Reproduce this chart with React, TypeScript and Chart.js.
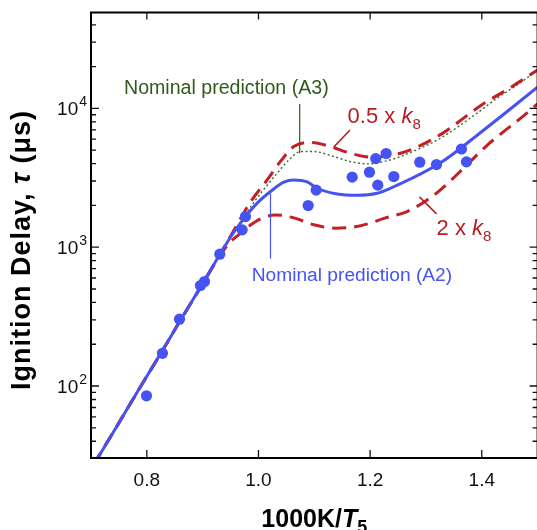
import React, { useEffect, useRef } from "react";
import { Chart, registerables } from "chart.js";

Chart.register(...registerables);

// ---------- data ----------
const a2X = [0.704, 0.7134, 0.7894, 0.828, 0.8585, 0.8997, 0.9302, 0.9534, 0.9767, 0.9977, 1.0215, 1.0453, 1.0632, 1.0872, 1.1052, 1.141, 1.1768, 1.2126, 1.2364, 1.326, 1.3923, 1.4998];
const a2Y = [27, 31, 100, 180, 290, 545, 880, 1240, 1663, 2080, 2520, 2940, 3050, 2955, 2660, 2420, 2370, 2450, 2660, 4055, 6440, 14200];

const halfK8X = [0.704, 0.7134, 0.7894, 0.828, 0.8585, 0.8997, 0.9302, 0.9499, 0.9857, 1.0156, 1.0394, 1.0632, 1.0949, 1.129, 1.1648, 1.2006, 1.2543, 1.3201, 1.4043, 1.4459, 1.4998];
const halfK8Y = [27, 31, 100, 180, 290, 545, 880, 1200, 2120, 3055, 4150, 5310, 5690, 5310, 4750, 4460, 4750, 6270, 10900, 13700, 18900];

const twoK8X = [0.704, 0.7134, 0.7894, 0.828, 0.8585, 0.8997, 0.9302, 0.948, 0.9678, 0.9857, 1.0036, 1.0305, 1.0663, 1.0991, 1.1379, 1.1738, 1.2006, 1.2245, 1.2664, 1.3022, 1.326, 1.37, 1.41, 1.443, 1.4759, 1.4998];
const twoK8Y = [27, 31, 100, 180, 290, 540, 860, 1072, 1260, 1445, 1603, 1710, 1614, 1450, 1372, 1403, 1493, 1615, 1807, 2193, 2590, 3800, 5450, 7000, 8900, 10800];

const a3X = [0.704, 0.7134, 0.7894, 0.828, 0.8585, 0.8997, 0.9302, 0.953, 0.9911, 1.009, 1.0335, 1.0573, 1.0752, 1.0991, 1.1349, 1.1648, 1.1947, 1.2245, 1.2543, 1.2902, 1.326, 1.3923, 1.428, 1.4639, 1.4998];
const a3Y = [27, 31, 100, 180, 290, 545, 880, 1230, 2090, 2590, 3410, 4370, 4890, 4890, 4500, 4140, 3985, 4140, 4500, 5170, 6100, 9290, 11900, 14800, 18900];

const expX = [0.7994, 0.828, 0.8585, 0.8961, 0.9033, 0.9307, 0.9708, 0.9767, 1.089, 1.1034, 1.1679, 1.1988, 1.2137, 1.2101, 1.2287, 1.2424, 1.2889, 1.3189, 1.3636, 1.3726];
const expY = [85, 172, 303, 530, 566, 891, 1334, 1663, 1996, 2577, 3197, 3472, 2800, 4350, 4728, 3228, 4100, 3940, 5100, 4120];

const xTickValues = [0.8, 1.0, 1.2, 1.4];
const xTickLabels = ["0.8", "1.0", "1.2", "1.4"];
const yMajorValues = [100, 1000, 10000];
const yMajorExponents = ["2", "3", "4"];
const yMinorValues = [40, 50, 60, 70, 80, 90, 200, 300, 400, 500, 600, 700, 800, 900, 2000, 3000, 4000, 5000, 6000, 7000, 8000, 9000, 20000, 30000, 40000];

const X_MIN = 0.7;
const X_MAX = 1.5;
const Y_MIN = 30.3;
const Y_MAX = 49100;

// ---------- styles ----------
const SANS = "'Liberation Sans', Arial, Helvetica, sans-serif";
const BLUE = "#4553f3";
const RED = "#c21f26";
const RED_TEXT = "#b81c22";
const GREEN = "#416b2b";
const GREEN_TEXT = "#2f5a1c";

const W = 545;
const H = 530;

type Run = { text: string; font: string; dy?: number };

function runsWidth(ctx: CanvasRenderingContext2D, runs: Run[]) {
  let w = 0;
  for (const r of runs) {
    ctx.font = r.font;
    w += ctx.measureText(r.text).width;
  }
  return w;
}

function drawRuns(ctx: CanvasRenderingContext2D, runs: Run[], x: number, y: number, align: "left" | "center" | "right") {
  const total = runsWidth(ctx, runs);
  let cx = align === "left" ? x : align === "center" ? x - total / 2 : x - total;
  ctx.textAlign = "left";
  ctx.textBaseline = "alphabetic";
  for (const r of runs) {
    ctx.font = r.font;
    ctx.fillText(r.text, cx, y + (r.dy || 0));
    cx += ctx.measureText(r.text).width;
  }
}

const pts = (xs: number[], ys: number[]) => xs.map((x, i) => ({ x, y: ys[i] }));

const decorPlugin = {
  id: "decor",
  afterDraw(chart: any) {
    const { ctx, chartArea: a, scales } = chart;
    const sx = scales.x;
    const sy = scales.y;
    const X = (v: number) => sx.getPixelForValue(v);
    const Y = (v: number) => sy.getPixelForValue(v);
    ctx.save();

    // frame
    ctx.strokeStyle = "#000";
    ctx.lineWidth = 2;
    ctx.strokeRect(a.left, a.top, a.right - a.left, a.bottom - a.top);

    // ticks
    ctx.lineWidth = 1.3;
    ctx.strokeStyle = "#111";
    ctx.beginPath();
    for (const v of xTickValues) {
      const px = X(v);
      ctx.moveTo(px, a.bottom);
      ctx.lineTo(px, a.bottom - 8);
      ctx.moveTo(px, a.top);
      ctx.lineTo(px, a.top + 7);
    }
    for (const v of yMajorValues) {
      const py = Y(v);
      ctx.moveTo(a.left, py);
      ctx.lineTo(a.left + 8, py);
      ctx.moveTo(a.right, py);
      ctx.lineTo(a.right - 8, py);
    }
    for (const v of yMinorValues) {
      const py = Y(v);
      ctx.moveTo(a.left, py);
      ctx.lineTo(a.left + 5, py);
      ctx.moveTo(a.right, py);
      ctx.lineTo(a.right - 5, py);
    }
    ctx.stroke();

    // tick labels
    ctx.fillStyle = "#111";
    xTickValues.forEach((v, i) => {
      drawRuns(ctx, [{ text: xTickLabels[i], font: `19px ${SANS}` }], X(v), a.bottom + 28, "center");
    });
    yMajorValues.forEach((v, i) => {
      const py = Y(v);
      ctx.font = `14px ${SANS}`;
      const ew = ctx.measureText(yMajorExponents[i]).width;
      const right = a.left - 4;
      drawRuns(ctx, [{ text: yMajorExponents[i], font: `14px ${SANS}` }], right, py - 2, "right");
      drawRuns(ctx, [{ text: "10", font: `19px ${SANS}` }], right - ew - 1, py + 7, "right");
    });

    // axis titles
    ctx.fillStyle = "#000";
    drawRuns(
      ctx,
      [
        { text: "1000K/", font: `bold 25px ${SANS}` },
        { text: "T", font: `italic bold 25px ${SANS}` },
        { text: "5", font: `bold 18px ${SANS}`, dy: 6 },
      ],
      (a.left + a.right) / 2,
      527,
      "center"
    );
    ctx.save();
    ctx.translate(30, 250);
    ctx.rotate(-Math.PI / 2);
    const anyCtx = ctx as any;
    if ("letterSpacing" in anyCtx) anyCtx.letterSpacing = "1px";
    drawRuns(
      ctx,
      [
        { text: "Ignition Delay, ", font: `bold 27px ${SANS}` },
        { text: "τ", font: `italic bold 27px ${SANS}` },
        { text: " (μs)", font: `bold 27px ${SANS}` },
      ],
      0,
      0,
      "center"
    );
    if ("letterSpacing" in anyCtx) anyCtx.letterSpacing = "0px";
    ctx.restore();

    // annotations
    // A3
    ctx.strokeStyle = GREEN_TEXT;
    ctx.lineWidth = 1.2;
    ctx.beginPath();
    ctx.moveTo(X(1.0738), Y(10770));
    ctx.lineTo(X(1.0738), Y(4750));
    ctx.stroke();
    ctx.fillStyle = GREEN_TEXT;
    drawRuns(ctx, [{ text: "Nominal prediction (A3)", font: `19.6px ${SANS}` }], X(0.7591), Y(12710), "left");

    // A2
    ctx.strokeStyle = BLUE;
    ctx.beginPath();
    ctx.moveTo(X(1.0215), Y(2440));
    ctx.lineTo(X(1.0215), Y(828));
    ctx.stroke();
    ctx.fillStyle = BLUE;
    drawRuns(ctx, [{ text: "Nominal prediction (A2)", font: `19.2px ${SANS}` }], X(0.9878), Y(573), "left");

    // 0.5 x k8
    ctx.strokeStyle = RED_TEXT;
    ctx.lineWidth = 1.5;
    ctx.beginPath();
    ctx.moveTo(X(1.1639), Y(6995));
    ctx.lineTo(X(1.1352), Y(5285));
    ctx.stroke();
    ctx.fillStyle = RED_TEXT;
    drawRuns(
      ctx,
      [
        { text: "0.5 x ", font: `22px ${SANS}` },
        { text: "k", font: `italic 22px ${SANS}` },
        { text: "8", font: `15px ${SANS}`, dy: 6 },
      ],
      X(1.1596),
      Y(7870),
      "left"
    );

    // 2 x k8
    ctx.beginPath();
    ctx.moveTo(X(1.2884), Y(2306));
    ctx.lineTo(X(1.319), Y(1738));
    ctx.stroke();
    drawRuns(
      ctx,
      [
        { text: "2 x ", font: `22px ${SANS}` },
        { text: "k", font: `italic 22px ${SANS}` },
        { text: "8", font: `15px ${SANS}`, dy: 6 },
      ],
      X(1.319),
      Y(1228),
      "left"
    );

    ctx.restore();
  },
};

export default function App() {
  const ref = useRef<HTMLCanvasElement | null>(null);

  useEffect(() => {
    if (!ref.current) return;
    const chart = new Chart(ref.current, {
      type: "line",
      data: {
        datasets: [
          {
            type: "scatter",
            label: "Experiment",
            data: pts(expX, expY),
            showLine: false,
            pointRadius: 5.6,
            pointBackgroundColor: BLUE,
            pointBorderWidth: 0,
            borderColor: BLUE,
            order: 0,
          } as any,
          {
            label: "Nominal prediction (A2)",
            data: pts(a2X, a2Y),
            borderColor: BLUE,
            borderWidth: 3,
            pointRadius: 0,
            cubicInterpolationMode: "monotone",
            fill: false,
            order: 1,
          },
          {
            label: "0.5 x k8",
            data: pts(halfK8X, halfK8Y),
            borderColor: RED,
            borderWidth: 3,
            borderDash: [14, 8],
            pointRadius: 0,
            cubicInterpolationMode: "monotone",
            fill: false,
            order: 2,
          },
          {
            label: "2 x k8",
            data: pts(twoK8X, twoK8Y),
            borderColor: RED,
            borderWidth: 3,
            borderDash: [14, 8],
            pointRadius: 0,
            cubicInterpolationMode: "monotone",
            fill: false,
            order: 2,
          },
          {
            label: "Nominal prediction (A3)",
            data: pts(a3X, a3Y),
            borderColor: GREEN,
            borderWidth: 1.4,
            borderDash: [2, 2.5],
            pointRadius: 0,
            cubicInterpolationMode: "monotone",
            fill: false,
            order: 3,
          },
        ],
      },
      options: {
        animation: false,
        responsive: false,
        devicePixelRatio: 1,
        layout: { padding: { left: 91, top: 12.5, right: W - 537.6, bottom: H - 458 } },
        scales: {
          x: { type: "linear", min: X_MIN, max: X_MAX, display: false },
          y: { type: "logarithmic", min: Y_MIN, max: Y_MAX, display: false },
        },
        plugins: { legend: { display: false }, tooltip: { enabled: false } },
        events: [],
      },
      plugins: [decorPlugin],
    });
    return () => chart.destroy();
  }, []);

  return (
    <div style={{ position: "fixed", left: 0, top: 0, width: 537, height: 530, overflow: "hidden", background: "#fff" }}>
      <canvas ref={ref} width={W} height={H} style={{ width: W, height: H, display: "block" }} />
    </div>
  );
}
